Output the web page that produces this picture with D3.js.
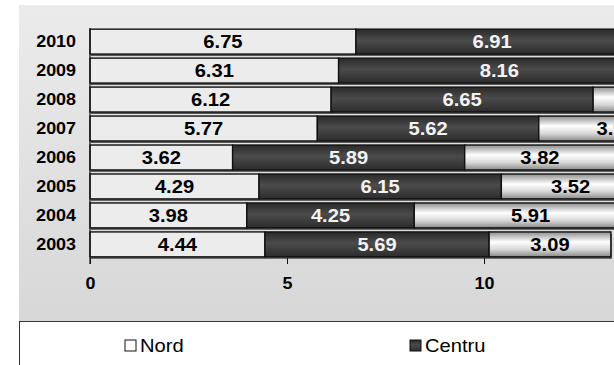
<!DOCTYPE html>
<html>
<head>
<meta charset="utf-8">
<script src="https://cdn.jsdelivr.net/npm/d3@7/dist/d3.min.js"></script>
<style>
  html, body { margin: 0; padding: 0; background: #fff; overflow: hidden; }
  svg { display: block; font-family: Arial, "Liberation Sans", sans-serif; }
  .wide { transform-box: fill-box; transform: scaleX(1.12); }
  .wide.mid { transform-origin: center; }
  .wide.end { transform-origin: right center; }
  .wide.start { transform-origin: left center; }
</style>
</head>
<body>
<svg id="chart" width="614" height="365"></svg>
<script>
// Regional values per year, stacked Nord -> Centru -> Sud
const years  = ["2010", "2009", "2008", "2007", "2006", "2005", "2004", "2003"];
const nord   = [6.75, 6.31, 6.12, 5.77, 3.62, 4.29, 3.98, 4.44];
const centru = [6.91, 8.16, 6.65, 5.62, 5.89, 6.15, 4.25, 5.69];
const sud    = [4.50, 4.20, 4.05, 3.93, 3.82, 3.52, 5.91, 3.09];
const seriesNames = ["Nord", "Centru", "Sud"];
const xTicks = [0, 5, 10, 15];

const FONT = "Arial, 'Liberation Sans', sans-serif";
const svg = d3.select("#chart");
const defs = svg.append("defs");

// panel background gradient
const bg = defs.append("linearGradient").attr("id", "bgGrad")
  .attr("x1", 0).attr("y1", 0).attr("x2", 0).attr("y2", 1);
bg.append("stop").attr("offset", "0%").attr("stop-color", "#ebebeb");
bg.append("stop").attr("offset", "100%").attr("stop-color", "#d2d2d2");

// dark cylinder fill for Centru
const dk = defs.append("linearGradient").attr("id", "darkGrad")
  .attr("x1", 0).attr("y1", 0).attr("x2", 0).attr("y2", 1);
dk.append("stop").attr("offset", "0%").attr("stop-color", "#2a2a2a");
dk.append("stop").attr("offset", "45%").attr("stop-color", "#4b4b4b");
dk.append("stop").attr("offset", "100%").attr("stop-color", "#2c2c2c");

// bright cylinder fill for Sud
const lt = defs.append("linearGradient").attr("id", "lightGrad")
  .attr("x1", 0).attr("y1", 0).attr("x2", 0).attr("y2", 1);
lt.append("stop").attr("offset", "0%").attr("stop-color", "#8e8e8e");
lt.append("stop").attr("offset", "40%").attr("stop-color", "#ffffff");
lt.append("stop").attr("offset", "70%").attr("stop-color", "#d8d8d8");
lt.append("stop").attr("offset", "100%").attr("stop-color", "#8a8a8a");

const fills = ["#ececec", "url(#darkGrad)", "url(#lightGrad)"];
const labelColors = ["#000", "#f2f2f2", "#000"];
const swatchFills = ["#ffffff", "url(#darkGrad)", "url(#lightGrad)"];

// grey panel
svg.append("rect").attr("x", 19).attr("y", 5).attr("width", 700).attr("height", 400)
  .attr("fill", "url(#bgGrad)");

const x = d3.scaleLinear().domain([0, 15]).range([90, 90 + 15 * 39.4]);
const y = d3.scaleBand().domain(years).range([28, 258]).paddingInner(0.14).paddingOuter(0.04);

const rows = years.map((yr, i) => ({ year: yr, vals: [nord[i], centru[i], sud[i]] }));

// stacked segments
const stack = d3.stack().keys([0, 1, 2]).value((d, k) => d.vals[k]);
const layers = stack(rows);

// bar shadows
svg.append("g").selectAll("rect").data(rows).join("rect")
  .attr("x", x(0) + 1)
  .attr("y", d => y(d.year) + 2)
  .attr("width", d => x(d3.sum(d.vals)) - x(0))
  .attr("height", y.bandwidth())
  .attr("fill", "#5a5a5a");

layers.forEach((layer, k) => {
  const g = svg.append("g");
  g.selectAll("rect").data(layer).join("rect")
    .attr("x", d => x(d[0]))
    .attr("y", d => y(d.data.year))
    .attr("width", d => x(d[1]) - x(d[0]))
    .attr("height", y.bandwidth())
    .attr("fill", fills[k])
    .attr("stroke", "#111")
    .attr("stroke-width", 1.4);
  g.selectAll("text").data(layer).join("text")
    .attr("class", "wide mid")
    .attr("x", d => (x(d[0]) + x(d[1])) / 2)
    .attr("y", d => y(d.data.year) + y.bandwidth() / 2)
    .attr("dy", "0.36em")
    .attr("text-anchor", "middle")
    .attr("font-size", 18)
    .attr("font-weight", "bold")
    .attr("fill", labelColors[k])
    .text(d => (d[1] - d[0]).toFixed(2));
});

// y axis
const yAxis = svg.append("g").attr("transform", `translate(${x(0)},0)`)
  .call(d3.axisLeft(y).tickSize(0).tickPadding(14));
yAxis.select(".domain").attr("stroke", "#111").attr("stroke-width", 1.2)
  .attr("d", "M0,28V264");
yAxis.selectAll("text").attr("class", "wide end").attr("font-size", 16).attr("font-weight", "bold")
  .attr("fill", "#000").attr("font-family", FONT);

// x axis
const xAxis = svg.append("g").attr("transform", "translate(0,258)")
  .call(d3.axisBottom(x).tickValues(xTicks).tickSize(6).tickPadding(14).tickFormat(d3.format("d")));
xAxis.select(".domain").remove();
xAxis.selectAll("line").attr("stroke", "#111");
xAxis.selectAll("text").attr("class", "wide mid").attr("font-size", 16).attr("font-weight", "bold")
  .attr("fill", "#000").attr("font-family", FONT);

// legend
const legend = svg.append("g");
legend.append("rect").attr("x", 19.5).attr("y", 321.5).attr("width", 700).attr("height", 80)
  .attr("fill", "#fff").attr("stroke", "#333").attr("stroke-width", 1);
const item = legend.selectAll("g.item").data(seriesNames).join("g")
  .attr("class", "item")
  .attr("transform", (d, i) => `translate(${125 + i * 285},340)`);
item.append("rect").attr("width", 11).attr("height", 11)
  .attr("fill", (d, i) => swatchFills[i]).attr("stroke", "#111").attr("stroke-width", 1);
item.append("text").attr("class", "wide start").attr("x", 15).attr("y", 12).attr("font-size", 18)
  .attr("fill", "#000").text(d => d);
</script>
</body>
</html>
